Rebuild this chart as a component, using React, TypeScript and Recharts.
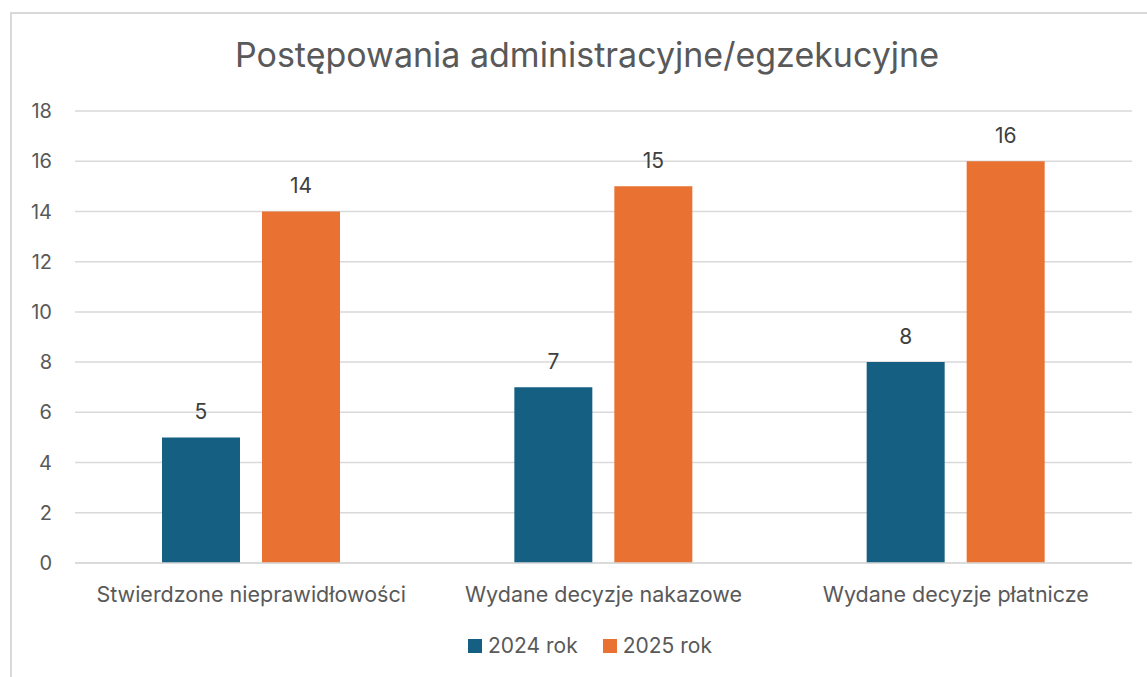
import { BarChart, Bar, XAxis, YAxis, CartesianGrid, Legend, LabelList } from "recharts";

const categories = [
  "Stwierdzone nieprawidłowości",
  "Wydane decyzje nakazowe",
  "Wydane decyzje płatnicze",
];
const rok2024 = [5, 7, 8];
const rok2025 = [14, 15, 16];
const yTicks = [0, 2, 4, 6, 8, 10, 12, 14, 16, 18];

const data = categories.map((name, i) => ({
  name,
  r2024: rok2024[i],
  r2025: rok2025[i],
}));

const FONT = "Inter, 'Open Sans', sans-serif";
const TEXT = "#595959";

const renderLegend = (props: any) => (
  <div style={{ display: "flex", justifyContent: "center", gap: 25, paddingLeft: 36 }}>
    {props.payload.map((p: any) => (
      <div key={p.value} style={{ display: "flex", alignItems: "center", gap: 6, color: TEXT }}>
        <span style={{ width: 14, height: 14, background: p.color, display: "inline-block" }} />
        <span>{p.value}</span>
      </div>
    ))}
  </div>
);

export default function App() {
  return (
    <div
      style={{
        position: "absolute",
        left: 10,
        top: 12,
        width: 1140,
        height: 668,
        border: "2px solid #d9d9d9",
        boxSizing: "border-box",
        background: "#fff",
        fontFamily: FONT,
      }}
    >
      <div
        style={{
          position: "absolute",
          top: 20,
          left: 0,
          width: 1150,
          textAlign: "center",
          fontSize: 34,
          color: TEXT,
        }}
      >
        Postępowania administracyjne/egzekucyjne
      </div>
      <BarChart
        width={1136}
        height={664}
        data={data}
        margin={{ top: 97, right: 16, bottom: 40, left: 0 }}
        barSize={78}
        barGap={22}
      >
        <CartesianGrid vertical={false} stroke="#d9d9d9" strokeWidth={1.5} />
        <XAxis
          dataKey="name"
          axisLine={{ stroke: "#d9d9d9", strokeWidth: 1.5 }}
          tickLine={false}
          tickMargin={18}
          height={50}
          tick={{ fill: TEXT, fontSize: 21.5, fontFamily: FONT }}
        />
        <YAxis
          width={63}
          domain={[0, 18]}
          ticks={yTicks}
          axisLine={false}
          tickLine={false}
          tick={{ fill: TEXT, fontSize: 20, fontFamily: FONT, dx: -15 }}
        />
        <Legend
          verticalAlign="bottom"
          content={renderLegend}
          wrapperStyle={{ fontSize: 21, fontFamily: FONT, top: 619 }}
        />
        <Bar dataKey="r2024" name="2024 rok" fill="#156082" isAnimationActive={false}>
          <LabelList dataKey="r2024" position="top" offset={18} fill="#404040" fontSize={21} fontFamily={FONT} />
        </Bar>
        <Bar dataKey="r2025" name="2025 rok" fill="#E97132" isAnimationActive={false}>
          <LabelList dataKey="r2025" position="top" offset={18} fill="#404040" fontSize={21} fontFamily={FONT} />
        </Bar>
      </BarChart>
    </div>
  );
}
